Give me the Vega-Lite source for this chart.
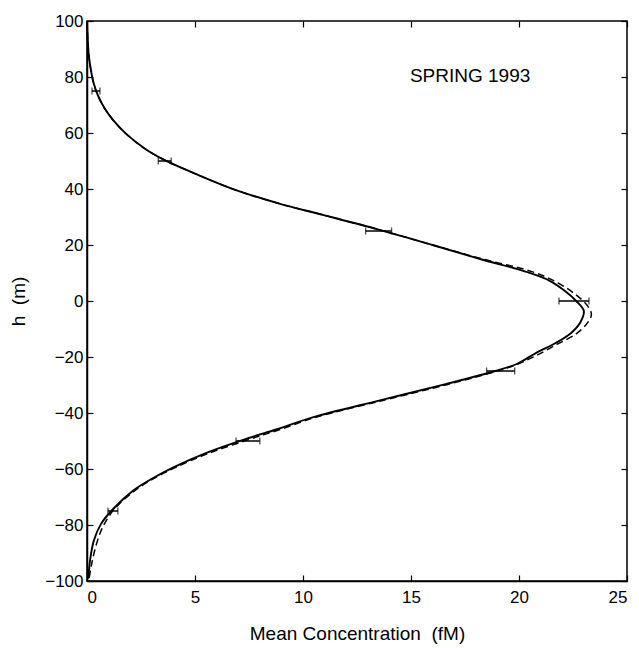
{
  "$schema": "https://vega.github.io/schema/vega-lite/v6.json",
  "width": 540,
  "height": 560,
  "autosize": {"type": "none"},
  "padding": {"left": 87, "top": 21, "right": 12, "bottom": 67},
  "background": "white",
  "config": {
    "view": {"stroke": "black", "strokeWidth": 1.5},
    "font": "Liberation Sans",
    "axis": {
      "labelFont": "Liberation Sans",
      "titleFont": "Liberation Sans",
      "labelColor": "black",
      "titleColor": "black",
      "labelFontSize": 17,
      "titleFontSize": 19,
      "titleFontWeight": "normal",
      "domainColor": "black",
      "domainWidth": 1.5,
      "tickColor": "black",
      "tickWidth": 1.2,
      "tickSize": -6,
      "grid": false
    }
  },
  "datasets": {
    "profiles": [
      {"series": "solid", "c": 0.0, "h": 100},
      {"series": "solid", "c": 0.03, "h": 94},
      {"series": "solid", "c": 0.08, "h": 88},
      {"series": "solid", "c": 0.17, "h": 83},
      {"series": "solid", "c": 0.3, "h": 78},
      {"series": "solid", "c": 0.5, "h": 73.5},
      {"series": "solid", "c": 0.8, "h": 69},
      {"series": "solid", "c": 1.22, "h": 64.5},
      {"series": "solid", "c": 1.84, "h": 59.5},
      {"series": "solid", "c": 2.7, "h": 54.3},
      {"series": "solid", "c": 3.6, "h": 50.3},
      {"series": "solid", "c": 5.0, "h": 45.5},
      {"series": "solid", "c": 6.93, "h": 39.5},
      {"series": "solid", "c": 8.94, "h": 34.7},
      {"series": "solid", "c": 11.0, "h": 30.6},
      {"series": "solid", "c": 13.5, "h": 25.5},
      {"series": "solid", "c": 16.0, "h": 20},
      {"series": "solid", "c": 18.2, "h": 15},
      {"series": "solid", "c": 20.3, "h": 10.5},
      {"series": "solid", "c": 21.4, "h": 7.3},
      {"series": "solid", "c": 22.1, "h": 3.75},
      {"series": "solid", "c": 22.65, "h": 0},
      {"series": "solid", "c": 23.0, "h": -3.5},
      {"series": "solid", "c": 22.85, "h": -7.5},
      {"series": "solid", "c": 22.4, "h": -11.5},
      {"series": "solid", "c": 21.7, "h": -15},
      {"series": "solid", "c": 20.8, "h": -18.5},
      {"series": "solid", "c": 19.9, "h": -22.5},
      {"series": "solid", "c": 18.9, "h": -25},
      {"series": "solid", "c": 16.65, "h": -29.6},
      {"series": "solid", "c": 13.56, "h": -35.5},
      {"series": "solid", "c": 10.48, "h": -41.5},
      {"series": "solid", "c": 8.8, "h": -45.8},
      {"series": "solid", "c": 7.3, "h": -49.4},
      {"series": "solid", "c": 5.5, "h": -54.3},
      {"series": "solid", "c": 4.0, "h": -59.4},
      {"series": "solid", "c": 3.0, "h": -63.5},
      {"series": "solid", "c": 2.14, "h": -67.7},
      {"series": "solid", "c": 1.22, "h": -74.2},
      {"series": "solid", "c": 0.65, "h": -79.6},
      {"series": "solid", "c": 0.32, "h": -85.5},
      {"series": "solid", "c": 0.14, "h": -92.7},
      {"series": "solid", "c": 0.06, "h": -99.2},

      {"series": "dashed", "c": 0.0, "h": 100},
      {"series": "dashed", "c": 0.03, "h": 94},
      {"series": "dashed", "c": 0.08, "h": 88},
      {"series": "dashed", "c": 0.17, "h": 83},
      {"series": "dashed", "c": 0.3, "h": 78},
      {"series": "dashed", "c": 0.5, "h": 73.5},
      {"series": "dashed", "c": 0.8, "h": 69},
      {"series": "dashed", "c": 1.22, "h": 64.5},
      {"series": "dashed", "c": 1.84, "h": 59.5},
      {"series": "dashed", "c": 2.7, "h": 54.3},
      {"series": "dashed", "c": 3.6, "h": 50.3},
      {"series": "dashed", "c": 5.0, "h": 45.5},
      {"series": "dashed", "c": 6.93, "h": 39.5},
      {"series": "dashed", "c": 8.94, "h": 34.7},
      {"series": "dashed", "c": 11.0, "h": 30.6},
      {"series": "dashed", "c": 13.5, "h": 25.5},
      {"series": "dashed", "c": 16.0, "h": 20},
      {"series": "dashed", "c": 18.3, "h": 15},
      {"series": "dashed", "c": 20.6, "h": 10.5},
      {"series": "dashed", "c": 21.8, "h": 6.5},
      {"series": "dashed", "c": 22.67, "h": 2},
      {"series": "dashed", "c": 23.2, "h": -2},
      {"series": "dashed", "c": 23.35, "h": -5},
      {"series": "dashed", "c": 23.1, "h": -8.5},
      {"series": "dashed", "c": 22.6, "h": -12},
      {"series": "dashed", "c": 21.75, "h": -15.5},
      {"series": "dashed", "c": 20.8, "h": -19.5},
      {"series": "dashed", "c": 19.95, "h": -22.5},
      {"series": "dashed", "c": 19.0, "h": -25},
      {"series": "dashed", "c": 16.7, "h": -29.8},
      {"series": "dashed", "c": 13.7, "h": -35.5},
      {"series": "dashed", "c": 10.6, "h": -41.5},
      {"series": "dashed", "c": 8.9, "h": -46},
      {"series": "dashed", "c": 7.4, "h": -49.7},
      {"series": "dashed", "c": 5.6, "h": -54.5},
      {"series": "dashed", "c": 4.05, "h": -59.6},
      {"series": "dashed", "c": 3.0, "h": -63.8},
      {"series": "dashed", "c": 2.2, "h": -67.8},
      {"series": "dashed", "c": 1.3, "h": -74},
      {"series": "dashed", "c": 0.85, "h": -79},
      {"series": "dashed", "c": 0.6, "h": -83},
      {"series": "dashed", "c": 0.36, "h": -89},
      {"series": "dashed", "c": 0.2, "h": -94.5},
      {"series": "dashed", "c": 0.1, "h": -99}
    ],
    "errors": [
      {"h": 75, "lo": 0.23, "hi": 0.6},
      {"h": 50, "lo": 3.3, "hi": 3.9},
      {"h": 25, "lo": 12.9, "hi": 14.1},
      {"h": 0, "lo": 21.85, "hi": 23.24},
      {"h": -25, "lo": 18.5, "hi": 19.8},
      {"h": -50, "lo": 6.9, "hi": 8.0},
      {"h": -75, "lo": 0.97, "hi": 1.43}
    ]
  },
  "layer": [
    {
      "data": {"name": "profiles"},
      "transform": [{"filter": "datum.series === 'solid'"}],
      "mark": {"type": "line", "color": "black", "strokeWidth": 1.9, "interpolate": "catmull-rom"},
      "encoding": {
        "x": {
          "field": "c", "type": "quantitative",
          "scale": {"domain": [0, 25], "nice": false, "zero": false},
          "axis": {
            "values": [0, 5, 10, 15, 20, 25],
            "title": "Mean Concentration \u00a0(fM)",
            "labelPadding": 14,
            "titlePadding": 19
          }
        },
        "y": {
          "field": "h", "type": "quantitative",
          "scale": {"domain": [-100, 100], "nice": false, "zero": false},
          "axis": {
            "values": [-100, -80, -60, -40, -20, 0, 20, 40, 60, 80, 100],
            "title": "h \u00a0(m)",
            "labelPadding": 10,
            "titlePadding": 16
          }
        },
        "order": {"field": "h", "sort": "descending"}
      }
    },
    {
      "data": {"name": "profiles"},
      "transform": [{"filter": "datum.series === 'dashed'"}],
      "mark": {"type": "line", "color": "black", "strokeWidth": 1.5, "strokeDash": [7, 4], "interpolate": "catmull-rom"},
      "encoding": {
        "x": {"field": "c", "type": "quantitative", "axis": null},
        "y": {"field": "h", "type": "quantitative", "axis": null},
        "order": {"field": "h", "sort": "descending"}
      }
    },
    {
      "data": {"name": "errors"},
      "mark": {"type": "rule", "color": "black", "strokeWidth": 1.5},
      "encoding": {
        "x": {"field": "lo", "type": "quantitative", "axis": null},
        "x2": {"field": "hi"},
        "y": {"field": "h", "type": "quantitative", "axis": null}
      }
    },
    {
      "data": {"name": "errors"},
      "mark": {"type": "tick", "color": "black", "orient": "vertical", "size": 7, "thickness": 1.3},
      "encoding": {
        "x": {"field": "lo", "type": "quantitative", "axis": null},
        "y": {"field": "h", "type": "quantitative", "axis": null}
      }
    },
    {
      "data": {"name": "errors"},
      "mark": {"type": "tick", "color": "black", "orient": "vertical", "size": 7, "thickness": 1.3},
      "encoding": {
        "x": {"field": "hi", "type": "quantitative", "axis": null},
        "y": {"field": "h", "type": "quantitative", "axis": null}
      }
    },
    {
      "data": {"values": [{"label": "SPRING 1993", "c": 14.95, "h": 80.5}]},
      "mark": {"type": "text", "align": "left", "baseline": "middle", "fontSize": 19, "font": "Liberation Sans", "color": "black"},
      "encoding": {
        "x": {
          "field": "c", "type": "quantitative",
          "axis": {"orient": "top", "values": [0, 5, 10, 15, 20, 25], "labels": false, "title": null, "domain": false}
        },
        "y": {
          "field": "h", "type": "quantitative",
          "axis": {"orient": "right", "values": [-100, -80, -60, -40, -20, 0, 20, 40, 60, 80, 100], "labels": false, "title": null, "domain": false}
        },
        "text": {"field": "label"}
      }
    }
  ],
  "resolve": {"axis": {"x": "independent", "y": "independent"}}
}
